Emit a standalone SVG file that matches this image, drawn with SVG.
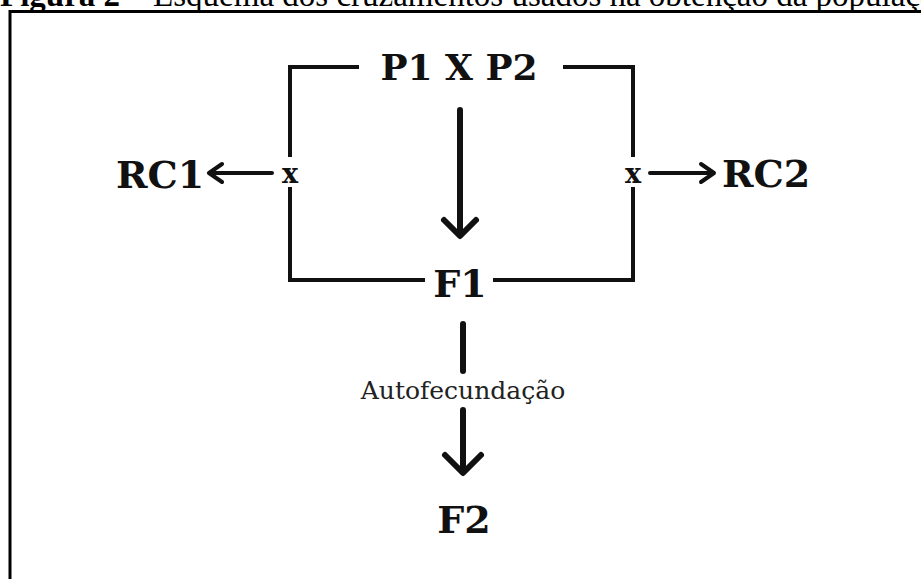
<svg xmlns="http://www.w3.org/2000/svg" width="921" height="579" viewBox="0 0 921 579">
<style>
.lbl{font-family:"DejaVu Serif","Liberation Serif",serif;font-weight:bold;fill:#111}
.big{font-size:38px}
.mid{font-size:36px}
.x{font-size:27px}
.small{font-family:"DejaVu Serif","Liberation Serif",serif;font-size:25px;fill:#222}
.title{font-family:"Liberation Serif","Times New Roman",serif;font-size:33px;fill:#000}
.ln{fill:none;stroke:#111;stroke-linecap:square;stroke-linejoin:miter}
.br{stroke-width:4}
.ar{stroke-width:4;stroke-linecap:round;stroke-linejoin:round}
.arb{stroke-width:6;stroke-linecap:round;stroke-linejoin:round}
</style>
<rect width="921" height="579" fill="#fff"/>
<g id="title">
<text class="title" x="0" y="6"><tspan font-weight="bold">Figura 2</tspan> – Esquema dos cruzamentos usados na obtenção da população</text>
</g>
<g id="frame">
<path d="M921,11.5 H10 V579" fill="none" stroke="#000" stroke-width="3"/>
</g>
<g id="connectors">
<path class="ln br" d="M357,67 H290 V155"/>
<path class="ln br" d="M290,189 V280 H423"/>
<path class="ln br" d="M565,67 H633 V155"/>
<path class="ln br" d="M633,189 V280 H495"/>
<path class="ln ar" d="M272,173 H210 M222,164 L209,173 L222,182"/>
<path class="ln ar" d="M650,173 H713 M701,164 L714,173 L701,182"/>
<path class="ln arb" d="M460,110 V234 M444,220 L460,236 L476,220"/>
<path class="ln arb" d="M463,324 V371"/>
<path class="ln arb" d="M463,410 V472 M445,455 L463,473 L481,455"/>
</g>
<g id="node-p1xp2"><text class="lbl mid" x="459" y="80" text-anchor="middle">P1 X P2</text></g>
<g id="node-rc1"><text class="lbl big" x="116" y="188">RC1</text></g>
<g id="node-x1"><text class="lbl x" x="290" y="183" text-anchor="middle">x</text></g>
<g id="node-x2"><text class="lbl x" x="633" y="183" text-anchor="middle">x</text></g>
<g id="node-rc2"><text class="lbl big" x="722" y="187">RC2</text></g>
<g id="node-f1"><text class="lbl big" x="460" y="297" text-anchor="middle">F1</text></g>
<g id="node-auto"><text class="small" x="463" y="399" text-anchor="middle">Autofecundação</text></g>
<g id="node-f2"><text class="lbl big" x="464" y="533" text-anchor="middle">F2</text></g>
</svg>
